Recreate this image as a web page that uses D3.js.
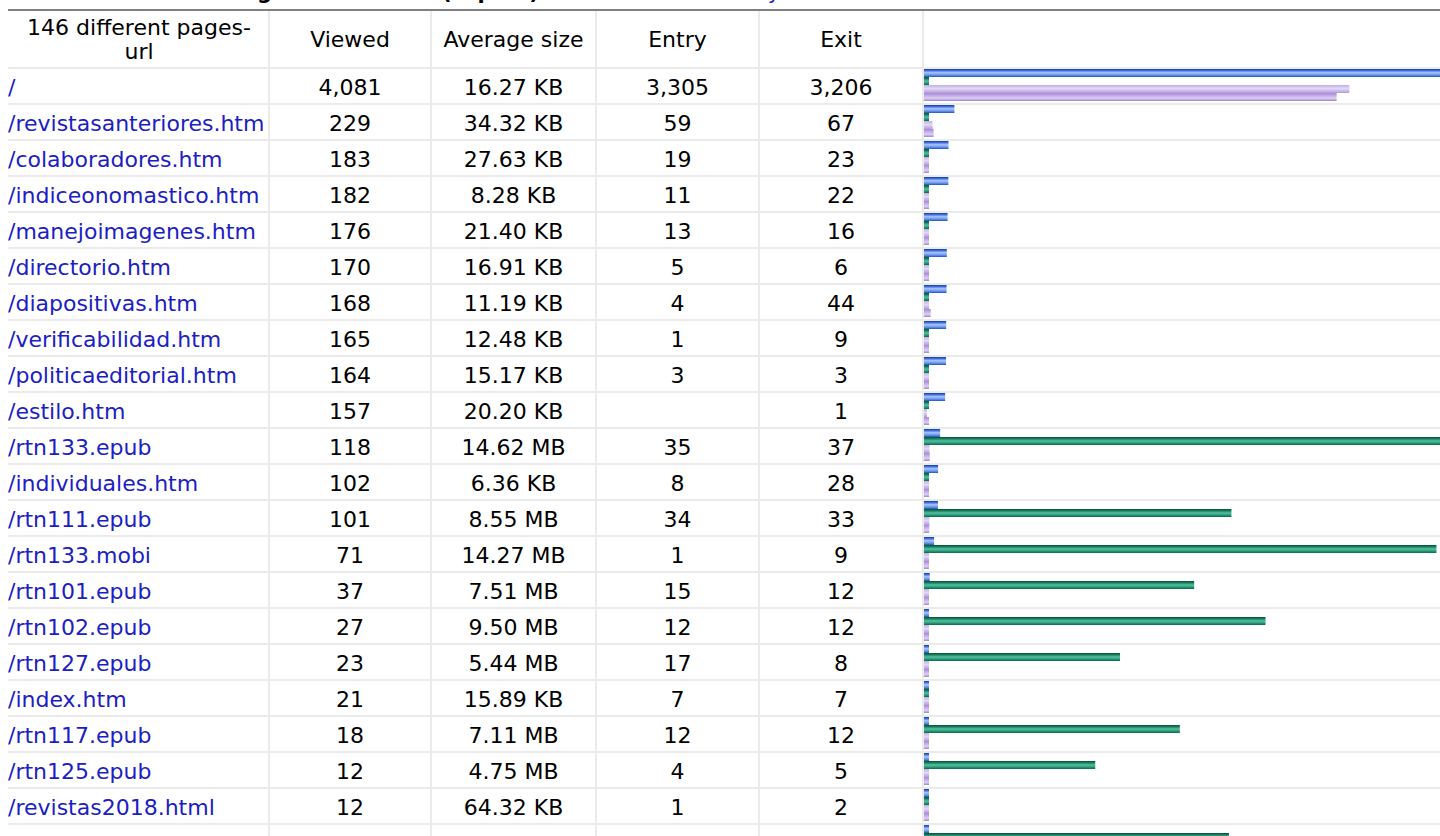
<!DOCTYPE html>
<html>
<head>
<meta charset="utf-8">
<style>
  body { margin: 0; background: #fff; overflow: hidden; }
  svg { display: block; font-family: "DejaVu Sans", Verdana, sans-serif; }
  .cell { font-size: 22px; fill: #000; }
  .url { fill: #1c20c4; }
  .title { font-size: 21px; font-weight: bold; }
  .grid { fill: #ebebeb; }
</style>
</head>
<body>
<script src="https://cdnjs.cloudflare.com/ajax/libs/d3/7.8.5/d3.min.js"></script>
<script>
  // page list, top 25 (only the first rows fit on screen)
  var urls = ["/", "/revistasanteriores.htm", "/colaboradores.htm", "/indiceonomastico.htm",
    "/manejoimagenes.htm", "/directorio.htm", "/diapositivas.htm", "/verificabilidad.htm",
    "/politicaeditorial.htm", "/estilo.htm", "/rtn133.epub", "/individuales.htm",
    "/rtn111.epub", "/rtn133.mobi", "/rtn101.epub", "/rtn102.epub", "/rtn127.epub",
    "/index.htm", "/rtn117.epub", "/rtn125.epub", "/revistas2018.html", ""];
  var viewed = [4081, 229, 183, 182, 176, 170, 168, 165, 164, 157, 118, 102, 101, 71, 37, 27, 23, 21, 18, 12, 12, 11];
  var sizeNum = [16.27, 34.32, 27.63, 8.28, 21.40, 16.91, 11.19, 12.48, 15.17, 20.20, 14.62, 6.36,
    8.55, 14.27, 7.51, 9.50, 5.44, 15.89, 7.11, 4.75, 64.32, 8.48];
  var sizeUnit = ["KB", "KB", "KB", "KB", "KB", "KB", "KB", "KB", "KB", "KB", "MB", "KB",
    "MB", "MB", "MB", "MB", "MB", "KB", "MB", "MB", "KB", "MB"];
  var entry = [3305, 59, 19, 11, 13, 5, 4, 1, 3, null, 35, 8, 34, 1, 15, 12, 17, 7, 12, 4, 1, null];
  var exit = [3206, 67, 23, 22, 16, 6, 44, 9, 3, 1, 37, 28, 33, 9, 12, 12, 8, 7, 12, 5, 2, null];
  var headers = [["146 different pages-", "url"], ["Viewed"], ["Average size"], ["Entry"], ["Exit"], []];

  var W = 1440, H = 836;
  var colEdges = [8, 268, 430, 595, 758, 922, 1440];
  var headTop = 11, headBottom = 67, rowH = 36;

  var rows = urls.map(function(u, i) {
    return {
      url: u, viewed: viewed[i], entry: entry[i], exit: exit[i],
      sizeLabel: sizeNum[i].toFixed(2) + " " + sizeUnit[i],
      sizeKB: sizeNum[i] * (sizeUnit[i] === "MB" ? 1024 : 1)
    };
  });

  var fmt = d3.format(",");
  var y = d3.scaleLinear().domain([0, 1]).range([headBottom + 2, headBottom + 2 + rowH]);
  var barX0 = colEdges[5] + 2;
  var xHits = d3.scaleLinear().domain([0, d3.max(viewed)]).range([0, 524]);
  var xSize = d3.scaleLinear().domain([0, d3.max(rows, function(d) { return d.sizeKB; })]).range([0, 524]);

  function barW(scale, v) {
    if (!v) return 3;
    return Math.max(5, scale(v) + 1);
  }

  var svg = d3.select("body").append("svg").attr("width", W).attr("height", H);

  var defs = svg.append("defs");
  function grad(id, stops) {
    var g = defs.append("linearGradient").attr("id", id)
      .attr("x1", 0).attr("y1", 0).attr("x2", 0).attr("y2", 1);
    stops.forEach(function(s) { g.append("stop").attr("offset", s[0]).attr("stop-color", s[1]); });
  }
  grad("gHits", [[0, "#12409f"], [0.15, "#2e5fcf"], [0.45, "#a6c1ff"], [0.6, "#8eb0f8"], [0.85, "#4f7fe2"], [1, "#1a4fc0"]]);
  grad("gSize", [[0, "#06512f"], [0.2, "#137a55"], [0.5, "#56bfa4"], [0.75, "#2a9a7a"], [1, "#0a6a40"]]);
  grad("gEntry", [[0, "#c2aee6"], [0.45, "#e2d9f6"], [0.7, "#cdbdec"], [1, "#b49ad9"]]);
  grad("gExit", [[0, "#a888d6"], [0.4, "#c7b3ea"], [0.65, "#dcd0f3"], [1, "#a583d4"]]);

  // section title, scrolled almost out of view
  var title = svg.append("text").attr("class", "title").attr("y", -1);
  title.append("tspan").attr("x", 228).text("Pages-URL");
  title.append("tspan").attr("x", 442).text("(Top 25)");
  title.append("tspan").attr("class", "url").attr("x", 630).attr("font-weight", "normal").text("Full list - Entry - Exit");

  svg.append("rect").attr("x", colEdges[0]).attr("y", 9).attr("width", W - colEdges[0]).attr("height", 2).attr("fill", "#808080");

  // grid
  var nLines = Math.ceil((H - headBottom) / rowH) + 1;
  svg.selectAll("rect.hline").data(d3.range(nLines)).enter().append("rect")
    .attr("class", "grid hline")
    .attr("x", colEdges[0]).attr("width", W - colEdges[0])
    .attr("y", function(k) { return headBottom + k * rowH; }).attr("height", 2);
  svg.selectAll("rect.vline").data(colEdges.slice(1, 6)).enter().append("rect")
    .attr("class", "grid vline")
    .attr("x", function(d) { return d; }).attr("width", 2)
    .attr("y", headTop).attr("height", H - headTop);

  // header
  headers.forEach(function(lines, c) {
    var cx = (colEdges[c] + colEdges[c + 1] + 2) / 2;
    var mid = (headTop + headBottom) / 2;
    lines.forEach(function(t, j) {
      svg.append("text").attr("class", "cell")
        .attr("x", cx).attr("y", mid + (j - (lines.length - 1) / 2) * 24)
        .attr("dy", "0.36em").attr("text-anchor", "middle").text(t);
    });
  });

  // body rows
  var row = svg.selectAll("g.row").data(rows).enter().append("g")
    .attr("class", "row")
    .attr("transform", function(d, i) { return "translate(0," + y(i) + ")"; });

  var ty = (rowH - 2) / 2 + 1;
  var named = row.filter(function(d) { return d.url !== ""; });
  named.append("text").attr("class", "cell url").attr("x", colEdges[0]).attr("y", ty).attr("dy", "0.36em")
    .text(function(d) { return d.url; });
  var cols = [
    function(d) { return fmt(d.viewed); },
    function(d) { return d.sizeLabel; },
    function(d) { return d.entry == null ? "" : fmt(d.entry); },
    function(d) { return d.exit == null ? "" : fmt(d.exit); }
  ];
  cols.forEach(function(f, k) {
    var c = k + 1;
    named.append("text").attr("class", "cell")
      .attr("x", (colEdges[c] + colEdges[c + 1] + 2) / 2).attr("y", ty).attr("dy", "0.36em")
      .attr("text-anchor", "middle")
      .text(f);
  });

  var barH = 8;
  row.append("rect").attr("x", barX0).attr("y", 0).attr("height", barH)
    .attr("width", function(d) { return barW(xHits, d.viewed); }).attr("fill", "url(#gHits)");
  row.append("rect").attr("x", barX0).attr("y", barH).attr("height", barH)
    .attr("width", function(d) { return barW(xSize, d.sizeKB); }).attr("fill", "url(#gSize)");
  row.append("rect").attr("x", barX0).attr("y", barH * 2).attr("height", barH)
    .attr("width", function(d) { return barW(xHits, d.entry); }).attr("fill", "url(#gEntry)");
  row.append("rect").attr("x", barX0).attr("y", barH * 3).attr("height", barH)
    .attr("width", function(d) { return barW(xHits, d.exit); }).attr("fill", "url(#gExit)");
</script>
</body>
</html>
